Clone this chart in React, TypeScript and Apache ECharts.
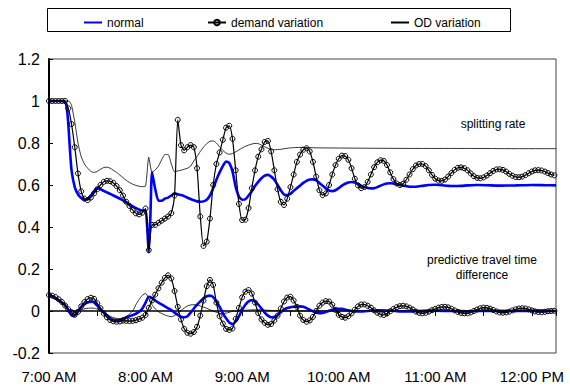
import React, { useEffect, useRef } from "react";
import * as echarts from "echarts";

// x values are minutes after 7:00 AM
const hourLabels = ["7:00 AM", "8:00 AM", "9:00 AM", "10:00 AM", "11:00 AM", "12:00 PM"];
const xMax = 315;
const demandStep = 2; // minutes between demand-variation samples

// demand variation, splitting rate (every 2 min from 7:00)
const demandSplit = [
  1, 1, 1, 1, 1, 1, 0.965, 0.89, 0.78, 0.655,
  0.57, 0.535, 0.528, 0.54, 0.56, 0.58, 0.6, 0.615, 0.62, 0.618,
  0.61, 0.595, 0.575, 0.55, 0.52, 0.5, 0.48, 0.465, 0.46, 0.468,
  0.488, 0.29, 0.41, 0.41, 0.42, 0.43, 0.44, 0.45, 0.466, 0.55,
  0.91, 0.79, 0.765, 0.78, 0.79, 0.78, 0.68, 0.45, 0.31, 0.33,
  0.44, 0.6, 0.7, 0.755, 0.815, 0.873, 0.882, 0.82, 0.67, 0.51,
  0.433, 0.435, 0.49, 0.585, 0.67, 0.735, 0.77, 0.805, 0.81, 0.76,
  0.67, 0.58, 0.52, 0.505, 0.535, 0.59, 0.65, 0.71, 0.745, 0.768,
  0.775, 0.76, 0.71, 0.64, 0.575, 0.552, 0.56, 0.6, 0.65, 0.695,
  0.725, 0.74, 0.738, 0.72, 0.68, 0.63, 0.598, 0.585, 0.59, 0.615,
  0.65, 0.685, 0.708, 0.718, 0.715, 0.695, 0.66, 0.628, 0.607, 0.6,
  0.606, 0.625, 0.65, 0.675, 0.693, 0.7, 0.7, 0.69, 0.67, 0.648,
  0.63, 0.621, 0.62, 0.626, 0.64, 0.657, 0.672, 0.682, 0.684, 0.68,
  0.67, 0.655, 0.642, 0.634, 0.632, 0.636, 0.645, 0.656, 0.667, 0.674,
  0.675, 0.672, 0.664, 0.653, 0.644, 0.638, 0.637, 0.64, 0.647, 0.656,
  0.664, 0.67, 0.671, 0.669, 0.664, 0.657, 0.65, 0.646,
];

// demand variation, predictive travel time difference (every 2 min from 7:00)
const demandTTD = [
  0.076, 0.073, 0.067, 0.056, 0.043, 0.026, 0.008, -0.006, -0.018, -0.004,
  0.022, 0.042, 0.057, 0.063, 0.058, 0.037, 0.013, -0.012, -0.03, -0.043,
  -0.049, -0.051, -0.05, -0.046, -0.047, -0.048, -0.047, -0.044, -0.038, -0.032,
  -0.019, 0.015, 0.05, 0.078, 0.108, 0.135, 0.158, 0.17, 0.155, 0.095,
  0.02, -0.04, -0.085, -0.104, -0.108, -0.1, -0.075, -0.022, 0.05, 0.118,
  0.148, 0.124, 0.04, -0.025, -0.06, -0.085, -0.09, -0.083, -0.037, 0.015,
  0.065, 0.092, 0.1, 0.083, 0.04, -0.01, -0.04, -0.056, -0.066, -0.062,
  -0.045, -0.022, 0.012, 0.045, 0.064, 0.068, 0.05, 0.02, -0.022, -0.043,
  -0.051, -0.045, -0.028, 0.0, 0.025, 0.04, 0.047, 0.045, 0.03, 0.005,
  -0.018, -0.028, -0.032, -0.025, -0.011, 0.006, 0.022, 0.031, 0.031, 0.025,
  0.016, 0.003, -0.008, -0.016, -0.019, -0.012, -0.001, 0.01, 0.018, 0.023,
  0.025, 0.022, 0.016, 0.007, -0.003, -0.009, -0.011, -0.009, -0.003, 0.004,
  0.01, 0.016, 0.019, 0.02, 0.017, 0.011, 0.003, -0.004, -0.009, -0.011,
  -0.011, -0.007, 0.0, 0.007, 0.013, 0.016, 0.015, 0.011, 0.005, -0.002,
  -0.007, -0.008, -0.007, -0.003, 0.003, 0.008, 0.012, 0.013, 0.012, 0.008,
  0.003, -0.002, -0.005, -0.006, -0.004, -0.001, 0.0, 0.001,
];

// normal, splitting rate [minute, value]
const normalSplit: [number, number][] = [
  [0, 1], [4, 1], [8, 1], [10, 0.995], [11, 0.97], [12, 0.89], [13, 0.77], [14, 0.67],
  [16, 0.59], [18, 0.555], [20, 0.538], [22, 0.53], [24, 0.535], [26, 0.55], [28, 0.57],
  [30, 0.585], [32, 0.58], [34, 0.572], [36, 0.565], [38, 0.558], [40, 0.55], [42, 0.543],
  [44, 0.535], [46, 0.527], [48, 0.518], [50, 0.508], [52, 0.498], [54, 0.49], [56, 0.483],
  [58, 0.478], [60, 0.48], [62, 0.28], [63, 0.45], [64, 0.66], [66, 0.58], [68, 0.525],
  [70, 0.525], [72, 0.535], [74, 0.54], [76, 0.55], [78, 0.56], [80, 0.556], [82, 0.552],
  [84, 0.547], [86, 0.54], [88, 0.533], [90, 0.527], [92, 0.522], [94, 0.52], [96, 0.522],
  [98, 0.53], [100, 0.55], [102, 0.585], [104, 0.625], [106, 0.66], [108, 0.69], [110, 0.712],
  [112, 0.705], [114, 0.665], [116, 0.59], [118, 0.545], [120, 0.53], [122, 0.532], [124, 0.55],
  [126, 0.57], [128, 0.595], [130, 0.615], [132, 0.632], [134, 0.645], [136, 0.648], [138, 0.64],
  [140, 0.625], [142, 0.6], [144, 0.575], [146, 0.555], [148, 0.552], [150, 0.558], [152, 0.572],
  [154, 0.585], [156, 0.597], [158, 0.61], [160, 0.62], [162, 0.626], [164, 0.627], [166, 0.622],
  [168, 0.61], [170, 0.597], [172, 0.584], [174, 0.574], [176, 0.571], [178, 0.575], [180, 0.585],
  [182, 0.597], [184, 0.606], [186, 0.612], [188, 0.614], [190, 0.612], [192, 0.605], [194, 0.597],
  [196, 0.59], [198, 0.586], [200, 0.584], [202, 0.585], [204, 0.59], [206, 0.597], [208, 0.603],
  [210, 0.607], [212, 0.608], [214, 0.607], [216, 0.603], [220, 0.597], [224, 0.592], [228, 0.592],
  [232, 0.596], [236, 0.6], [240, 0.601], [244, 0.599], [248, 0.596], [252, 0.595], [256, 0.596],
  [260, 0.598], [266, 0.6], [272, 0.599], [280, 0.597], [290, 0.598], [300, 0.6], [308, 0.599],
  [315, 0.598],
];

// normal, predictive travel time difference [minute, value]
const normalTTD: [number, number][] = [
  [0, 0.076], [2, 0.07], [4, 0.06], [6, 0.05], [8, 0.04], [10, 0.029], [12, 0.005], [14, -0.02],
  [15, -0.024], [17, -0.012], [19, 0.01], [21, 0.026], [23, 0.037], [25, 0.043], [27, 0.044],
  [29, 0.035], [31, 0.018], [33, 0.0], [35, -0.016], [37, -0.03], [39, -0.041], [41, -0.046],
  [43, -0.045], [45, -0.041], [48, -0.031], [51, -0.022], [54, -0.013], [56, -0.004], [58, 0.012],
  [60, 0.04], [62, 0.068], [64, 0.062], [66, 0.05], [68, 0.04], [70, 0.031], [72, 0.022],
  [74, 0.013], [76, 0.004], [78, -0.008], [80, -0.018], [82, -0.027], [84, -0.03], [86, -0.025],
  [88, -0.008], [90, 0.012], [92, 0.03], [94, 0.046], [96, 0.06], [98, 0.07], [100, 0.073],
  [102, 0.066], [104, 0.045], [106, 0.02], [108, -0.01], [110, -0.035], [112, -0.055],
  [114, -0.062], [116, -0.05], [118, -0.025], [120, 0.005], [122, 0.03], [124, 0.046],
  [126, 0.052], [128, 0.045], [130, 0.03], [132, 0.012], [134, -0.008], [136, -0.022],
  [138, -0.03], [140, -0.029], [142, -0.02], [144, -0.006], [146, 0.006], [148, 0.014],
  [150, 0.018], [152, 0.02], [154, 0.021], [156, 0.022], [158, 0.02], [160, 0.014], [162, 0.006],
  [164, -0.002], [166, -0.008], [168, -0.01], [170, -0.009], [172, -0.005], [174, 0.001],
  [176, 0.006], [178, 0.01], [180, 0.011], [182, 0.01], [185, 0.005], [188, 0.0], [191, -0.002],
  [195, -0.002], [200, 0.001], [205, 0.003], [210, 0.002], [215, 0.0], [220, -0.002], [230, 0.0],
  [240, 0.002], [250, 0.0], [260, -0.001], [270, 0.001], [280, 0.0], [290, 0.0], [300, 0.001],
  [315, 0.0],
];

// OD variation, splitting rate [minute, value]
const odSplit: [number, number][] = [
  [0, 1], [4, 1], [8, 1], [12, 1], [13, 0.995], [14, 0.98], [16, 0.9], [18, 0.8], [20, 0.735],
  [22, 0.7], [24, 0.68], [26, 0.665], [28, 0.66], [30, 0.665], [32, 0.675], [34, 0.683],
  [36, 0.685], [38, 0.68], [40, 0.67], [42, 0.66], [44, 0.647], [46, 0.635], [48, 0.622],
  [50, 0.612], [52, 0.604], [54, 0.598], [56, 0.594], [58, 0.592], [60, 0.595], [62, 0.732],
  [64, 0.66], [66, 0.672], [68, 0.69], [70, 0.72], [72, 0.745], [74, 0.745], [76, 0.7],
  [78, 0.663], [80, 0.667], [82, 0.67], [84, 0.675], [86, 0.68], [88, 0.69], [90, 0.715],
  [92, 0.735], [94, 0.76], [96, 0.78], [98, 0.797], [100, 0.808], [102, 0.81], [104, 0.8],
  [106, 0.782], [108, 0.765], [110, 0.752], [112, 0.746], [114, 0.75], [116, 0.758], [118, 0.767],
  [120, 0.776], [122, 0.784], [124, 0.79], [126, 0.795], [128, 0.798], [130, 0.797], [132, 0.79],
  [134, 0.782], [136, 0.775], [138, 0.77], [140, 0.768], [144, 0.77], [148, 0.775], [152, 0.778],
  [158, 0.779], [166, 0.777], [180, 0.776], [200, 0.775], [230, 0.774], [260, 0.774],
  [290, 0.773], [315, 0.773],
];

// OD variation, predictive travel time difference [minute, value]
const odTTD: [number, number][] = [
  [0, 0.076], [2, 0.072], [4, 0.064], [6, 0.05], [8, 0.035], [10, 0.02], [12, 0.008], [14, 0.002],
  [17, 0.0], [20, 0.006], [23, 0.012], [26, 0.014], [29, 0.012], [32, 0.004], [35, -0.01],
  [38, -0.025], [41, -0.034], [44, -0.036], [47, -0.03], [50, -0.015], [52, 0.0], [54, 0.03],
  [56, 0.055], [58, 0.075], [60, 0.084], [62, 0.06], [64, 0.03], [66, 0.01], [68, -0.003],
  [70, -0.012], [72, -0.019], [74, -0.024], [76, -0.027], [78, -0.022], [80, -0.01], [82, 0.002],
  [84, 0.014], [86, 0.024], [88, 0.029], [90, 0.03], [92, 0.028], [94, 0.024], [96, 0.018],
  [98, 0.013], [100, 0.006], [102, 0.0], [104, -0.006], [106, -0.011], [108, -0.012], [110, -0.01],
  [112, -0.006], [114, -0.002], [116, 0.0], [120, 0.002], [125, 0.005], [130, 0.006], [135, 0.004],
  [140, 0.002], [150, 0.0], [170, 0.0], [200, 0.001], [250, 0.0], [315, 0.0],
];

const FONT = "'Liberation Sans', Arial, Helvetica, sans-serif";

function App() {
  const ref = useRef<HTMLDivElement>(null);

  useEffect(() => {
    document.body.style.margin = "0";
    if (!ref.current) return;
    const chart = echarts.init(ref.current, undefined, { renderer: "svg" });

    const withTime = (vals: number[]) => vals.map((v, i) => [i * demandStep, v]);

    const blueStyle = {
      type: "line",
      name: "normal",
      symbol: "none",
      smooth: 0.2,
      color: "#0000ff",
      lineStyle: { color: "#0000ff", width: 2.6 },
      z: 2,
    };
    const demandStyle = {
      type: "line",
      name: "demand variation",
      symbol: "circle",
      symbolSize: 5,
      showAllSymbol: true,
      smooth: 0.2,
      color: "#000",
      itemStyle: { color: "rgba(255,255,255,0)", borderColor: "#000", borderWidth: 1 },
      lineStyle: { color: "#000", width: 1.2 },
      z: 3,
    };
    const odStyle = {
      type: "line",
      name: "OD variation",
      symbol: "none",
      smooth: 0.2,
      color: "#000",
      lineStyle: { color: "#000", width: 0.8 },
      z: 4,
    };

    const legendCommon = {
      top: 16.5,
      padding: 0,
      itemWidth: 18,
      itemHeight: 7,
      textStyle: { fontSize: 12, fontFamily: FONT, color: "#000" },
    };

    chart.setOption({
      animation: false,
      backgroundColor: "#fff",
      grid: {
        left: 49,
        right: 14,
        top: 59,
        bottom: 39,
        show: true,
        borderColor: "#404040",
        borderWidth: 1,
        backgroundColor: "transparent",
      },
      legend: [
        { ...legendCommon, left: 83, itemStyle: { opacity: 0 }, data: ["normal"] },
        { ...legendCommon, left: 207, data: ["demand variation"] },
        { ...legendCommon, left: 390, itemStyle: { opacity: 0 }, data: ["OD variation"] },
      ],
      graphic: [
        {
          type: "rect",
          shape: { x: 47.5, y: 8.5, width: 463, height: 23 },
          style: { fill: "none", stroke: "#000", lineWidth: 1 },
          z: -1,
        },
        {
          type: "text",
          x: 493,
          y: 124,
          style: {
            text: "splitting rate",
            font: `12px ${FONT}`,
            fill: "#000",
            align: "center",
            verticalAlign: "middle",
            textAlign: "center",
            textVerticalAlign: "middle",
          },
        },
        {
          type: "text",
          x: 482,
          y: 267.5,
          style: {
            text: "predictive travel time\ndifference",
            font: `12px ${FONT}`,
            lineHeight: 15,
            fill: "#000",
            align: "center",
            verticalAlign: "middle",
            textAlign: "center",
            textVerticalAlign: "middle",
          },
        },
      ],
      xAxis: [
        {
          type: "value",
          position: "bottom",
          min: 0,
          max: xMax,
          interval: 60,
          axisLine: { show: false, onZero: false },
          axisTick: { show: false },
          splitLine: { show: false },
          axisLabel: {
            margin: 16,
            fontSize: 15,
            fontFamily: FONT,
            color: "#000",
            showMaxLabel: false,
            formatter: (v: number) => (v % 60 === 0 ? hourLabels[v / 60] ?? "" : ""),
          },
        },
        {
          type: "value",
          position: "top",
          min: 0,
          max: xMax,
          interval: 30,
          axisLine: { show: true, onZero: true, lineStyle: { color: "#000", width: 1.5 } },
          axisTick: { show: true, inside: true, length: 5, lineStyle: { color: "#000", width: 1 } },
          axisLabel: { show: false },
          splitLine: { show: false },
        },
      ],
      yAxis: {
        type: "value",
        min: -0.2,
        max: 1.2,
        interval: 0.2,
        axisLine: { show: true, onZero: false, lineStyle: { color: "#000", width: 2 } },
        axisTick: { show: true, inside: true, length: 4, lineStyle: { color: "#000" } },
        splitLine: { show: false },
        axisLabel: {
          margin: 9,
          fontSize: 16,
          fontFamily: FONT,
          color: "#000",
          formatter: (v: number) => String(Math.round(v * 10) / 10),
        },
      },
      series: [
        { ...blueStyle, data: normalSplit },
        { ...blueStyle, data: normalTTD },
        { ...demandStyle, data: withTime(demandSplit) },
        { ...demandStyle, data: withTime(demandTTD) },
        { ...odStyle, data: odSplit },
        { ...odStyle, data: odTTD },
      ],
    });

    return () => chart.dispose();
  }, []);

  return <div ref={ref} style={{ width: 570, height: 392 }} />;
}

export default App;
